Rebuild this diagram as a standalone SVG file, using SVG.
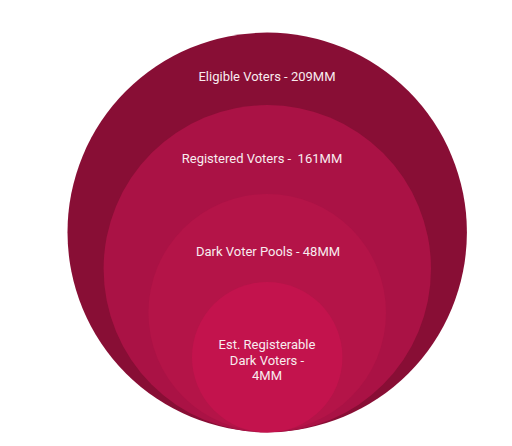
<svg xmlns="http://www.w3.org/2000/svg" width="512" height="446" viewBox="0 0 512 446">
<style>
.lbl{font-family:Roboto,"Liberation Sans",sans-serif;font-size:13px;fill:#F8ECEF;text-anchor:middle}
</style>
<rect width="512" height="446" fill="#FFFFFF"/>
<g id="eligible"><circle cx="267.2" cy="232.3" r="199.7" fill="#880E35"/><text class="lbl" x="267" y="81">Eligible Voters - 209MM</text></g>
<g id="registered"><circle cx="267.3" cy="268.8" r="163.7" fill="#AA1245"/><text class="lbl" x="262" y="163" xml:space="preserve">Registered Voters -  161MM</text></g>
<g id="darkpools"><circle cx="267.2" cy="312.8" r="118.8" fill="#B41448"/><text class="lbl" x="268" y="256">Dark Voter Pools - 48MM</text></g>
<g id="registerable"><circle cx="267.2" cy="357.2" r="75.2" fill="#C3134D"/><text class="lbl" x="267" y="349">Est. Registerable</text><text class="lbl" x="267" y="364.5">Dark Voters -</text><text class="lbl" x="267" y="380">4MM</text></g>
<g id="connectors"/>
</svg>
